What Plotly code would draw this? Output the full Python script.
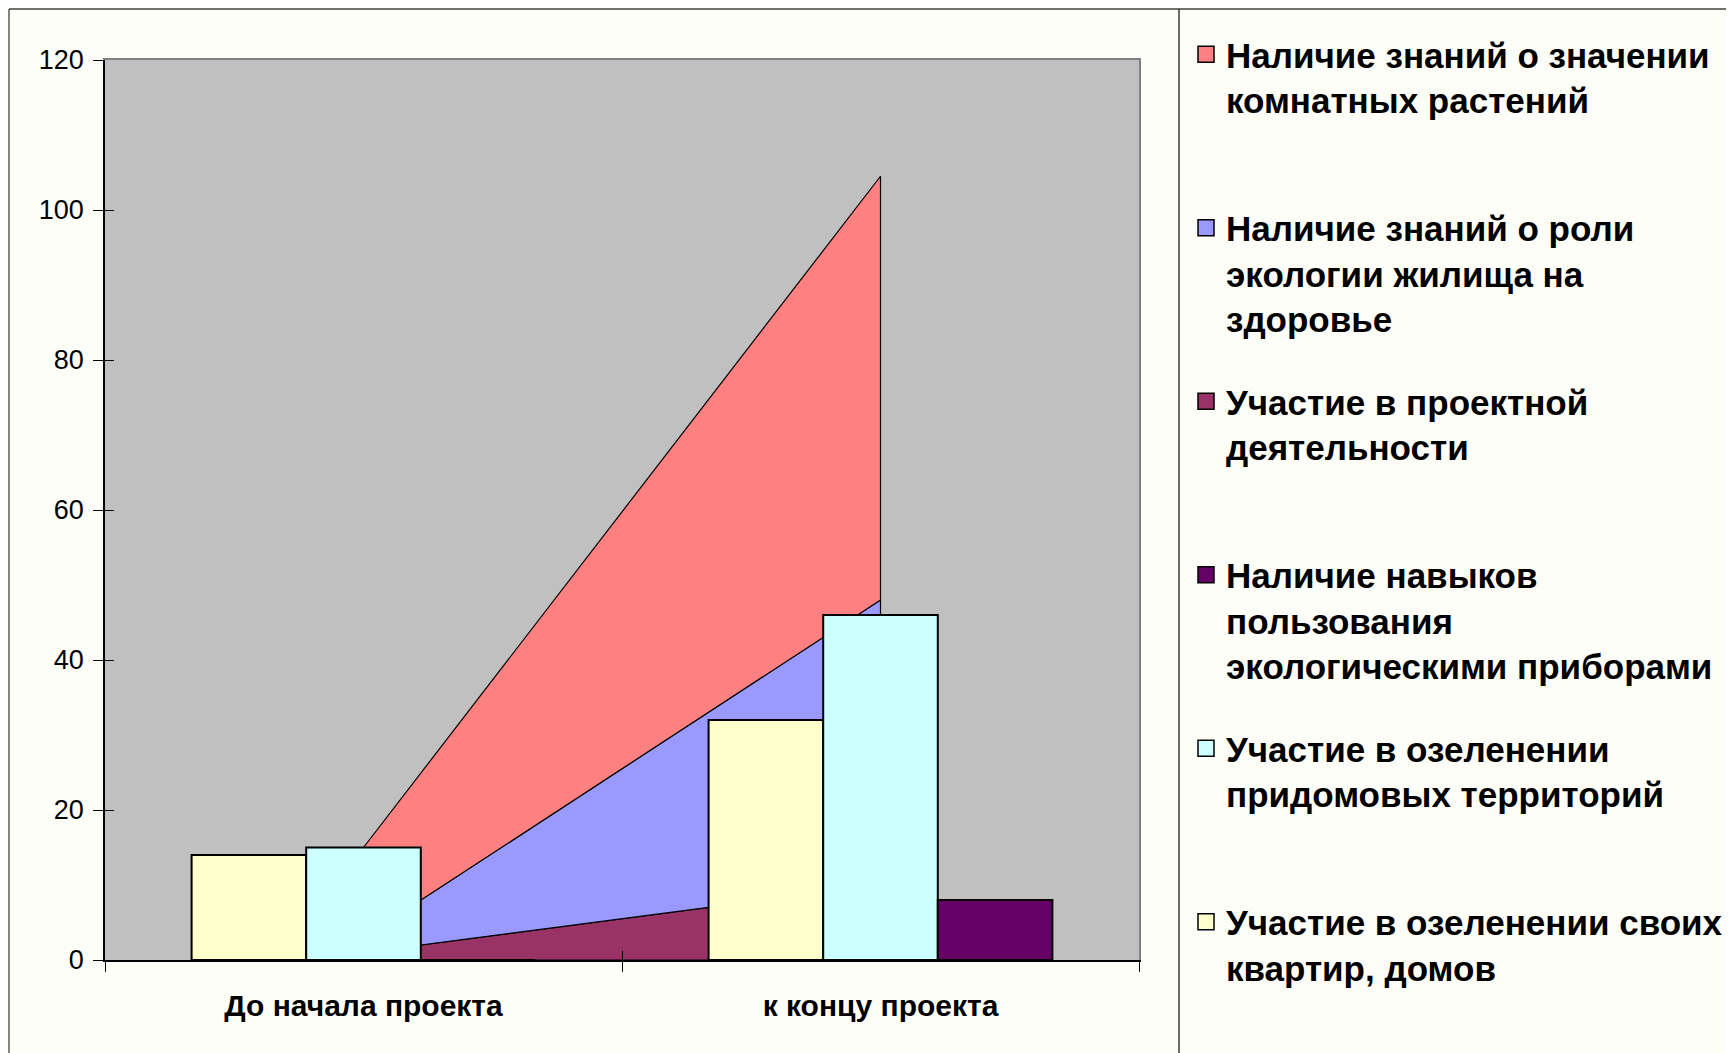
import numpy as np
import plotly.graph_objects as go

# ---------------- data ----------------
categories = ["До начала проекта", "к концу проекта"]

# stacked areas (bottom -> top)
area_project = [1, 10]        # Участие в проектной деятельности
area_ecology = [2, 38]        # Наличие знаний о роли экологии жилища на здоровье
area_plants = [12, 56.5]      # Наличие знаний о значении комнатных растений

# bars (left -> right inside a group)
bar_flats = [14, 32]          # Участие в озеленении своих квартир, домов
bar_yards = [15, 46]          # Участие в озеленении придомовых территорий
bar_devices = [0, 8]          # Наличие навыков пользования экологическими приборами

y_ticks = [0, 20, 40, 60, 80, 100, 120]

legend_labels = [
    "Наличие знаний о значении<br>комнатных растений<br> ",
    "Наличие знаний о роли<br>экологии жилища на<br>здоровье",
    "Участие в проектной<br>деятельности<br> ",
    "Наличие навыков<br>пользования<br>экологическими приборами",
    "Участие в озеленении<br>придомовых территорий<br> ",
    "Участие в озеленении своих<br>квартир, домов",
]

# ---------------- style ----------------
C_PLANTS = "#FF8080"
C_ECO = "#9999FF"
C_PROJECT = "#993366"
C_DEVICES = "#660066"
C_YARDS = "#CCFFFF"
C_FLATS = "#FFFFCC"
legend_colors = [C_PLANTS, C_ECO, C_PROJECT, C_DEVICES, C_YARDS, C_FLATS]

OFF = 8                      # page body margin
W, H = 1734 - OFF, 1053 - OFF
PL, PR, PT, PB = 105, 1139, 60, 960   # plot area in screen pixels
ML, MT = PL - OFF, PT - OFF
MR, MB = W - (PR - OFF), H - (PB - OFF)
PW, PH = PR - PL, PB - PT


def px_x(p):
    return (p - PL) / PW


def px_y(p):
    return (PB - p) / PH


fig = go.Figure()

# stacked areas drawn as closed polygons built from cumulative data
layers = [(area_project, C_PROJECT), (area_ecology, C_ECO), (area_plants, C_PLANTS)]
base = np.zeros(len(categories))
for vals, col in layers:
    top = base + np.array(vals, dtype=float)
    xs = list(categories) + list(categories[::-1])
    ys = list(top) + list(base[::-1])
    fig.add_trace(go.Scatter(
        x=xs, y=ys, fill="toself", fillcolor=col, mode="lines",
        line=dict(color="black", width=1.2), showlegend=False,
        xaxis="x", yaxis="y", hoverinfo="skip"))
    base = top

# bars on an overlaying subplot so they sit above the areas
for vals, col in [(bar_flats, C_FLATS), (bar_yards, C_YARDS), (bar_devices, C_DEVICES)]:
    fig.add_trace(go.Bar(
        x=categories, y=vals, marker=dict(color=col, line=dict(color="black", width=2)),
        showlegend=False, xaxis="x2", yaxis="y2"))

# legend entries
for i, (lab, col) in enumerate(zip(legend_labels, legend_colors)):
    fig.add_trace(go.Scatter(
        x=[None], y=[None], mode="markers", name=lab, legendgroup=f"g{i}",
        marker=dict(symbol="square", size=16, color=col, line=dict(color="black", width=1.5)),
        xaxis="x", yaxis="y"))

shapes = [
    # chart frame
    dict(type="line", xref="paper", yref="paper", x0=px_x(9), x1=px_x(1740), y0=px_y(9), y1=px_y(9),
         line=dict(color="#404040", width=1.3), layer="above"),
    dict(type="line", xref="paper", yref="paper", x0=px_x(9), x1=px_x(9), y0=px_y(9), y1=px_y(1060),
         line=dict(color="#404040", width=1.3), layer="above"),
    # legend box border
    dict(type="line", xref="paper", yref="paper", x0=px_x(1179), x1=px_x(1179), y0=px_y(9), y1=px_y(1060),
         line=dict(color="#202020", width=1.3), layer="above"),
]

FONT = "Liberation Sans, Arial, sans-serif"
cat_axis = dict(type="category", categoryorder="array", categoryarray=categories,
                range=[-0.5, len(categories) - 0.5], showgrid=False, zeroline=False)

fig.update_layout(
    width=W, height=H,
    margin=dict(l=ML, r=MR, t=MT, b=MB, pad=0, autoexpand=False),
    paper_bgcolor="#FEFEF8",
    plot_bgcolor="#C0C0C0",
    barmode="group", bargap=0.335, bargroupgap=0,
    showlegend=True,
    legend=dict(
        x=px_x(1186), xanchor="left", y=px_y(25), yanchor="top",
        font=dict(family=FONT, size=35, color="black", weight="bold"),
        valign="top", tracegroupgap=34, itemclick=False, itemdoubleclick=False,
        bgcolor="rgba(0,0,0,0)", borderwidth=0, maxheight=2000,
    ),
    shapes=shapes,
    xaxis=dict(
        **cat_axis, automargin=False,
        showline=True, linecolor="black", linewidth=1.5,
        ticks="outside", tickson="boundaries", ticklen=10, tickcolor="black", tickwidth=1.2,
        tickfont=dict(family=FONT, size=30, color="black", weight="bold"),
        ticklabelstandoff=18,
    ),
    yaxis=dict(
        range=[0, 120], tickvals=y_ticks, ticktext=[str(v) for v in y_ticks], automargin=False,
        showline=True, linecolor="black", linewidth=1.5,
        ticks="outside", ticklen=10, tickcolor="black", tickwidth=1.2,
        showgrid=False, zeroline=False,
        tickfont=dict(family=FONT, size=27, color="black"),
        ticklabelstandoff=4,
    ),
    xaxis2=dict(
        **cat_axis, overlaying="x", side="top",
        showline=True, linecolor="#808080", linewidth=2, showticklabels=False, ticks="",
    ),
    yaxis2=dict(
        range=[0, 120], overlaying="y", side="right", anchor="x2",
        showline=True, linecolor="#808080", linewidth=2, showticklabels=False, ticks="",
        showgrid=False, zeroline=False,
    ),
    # inner halves of the crossing tick marks
    xaxis3=dict(
        **cat_axis, overlaying="x", side="bottom", anchor="y",
        showline=False, showticklabels=False,
        ticks="inside", tickson="boundaries", ticklen=9, tickcolor="black", tickwidth=1.2,
    ),
    yaxis3=dict(
        range=[0, 120], tickvals=y_ticks, overlaying="y", side="left", anchor="x",
        showline=False, showticklabels=False, showgrid=False, zeroline=False,
        ticks="inside", ticklen=9, tickcolor="black", tickwidth=1.2,
    ),
)

# empty helper trace so the tick-only axes are drawn
fig.add_trace(go.Scatter(x=[None], y=[None], xaxis="x3", yaxis="y3", showlegend=False, hoverinfo="skip"))

fig.write_html("out.html")
